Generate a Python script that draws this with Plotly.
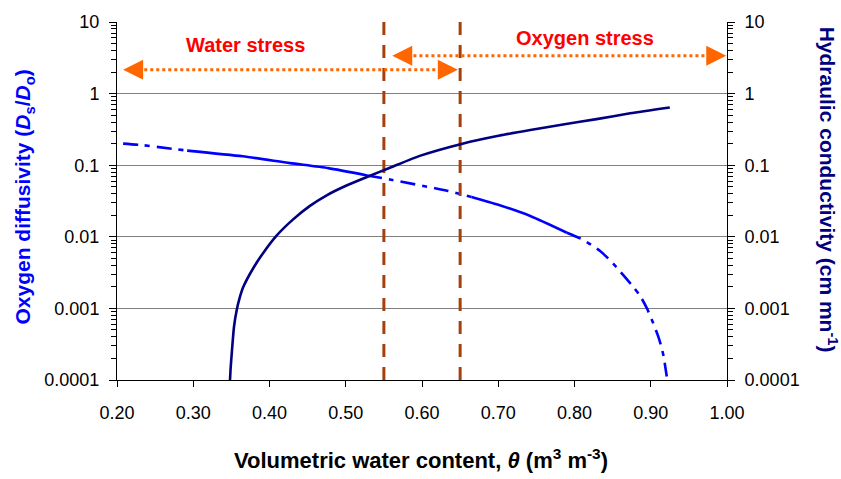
import math
import plotly.graph_objects as go

# ---------------- data ----------------
# Oxygen diffusivity Ds/Do (left axis)
theta_ds = [0.208, 0.234, 0.292, 0.365, 0.427, 0.477, 0.528, 0.558, 0.633, 0.665,
            0.700, 0.742, 0.790, 0.811, 0.834, 0.851, 0.877, 0.886, 0.895, 0.903,
            0.910, 0.914, 0.917, 0.921]
ds = [0.20, 0.19, 0.16, 0.133, 0.107, 0.091, 0.072, 0.063, 0.044, 0.036,
      0.028, 0.0195, 0.0114, 0.0091, 0.0063, 0.0042, 0.0020, 0.0015, 0.0010, 0.00063,
      0.00040, 0.00029, 0.00021, 0.000112]
# line style of each stretch of the diffusivity curve (start, end)
ds_style_breaks = [(0.208, 0.292, "dashdot"), (0.292, 0.528, "solid"),
                   (0.528, 0.665, "dashdot"), (0.665, 0.790, "solid"),
                   (0.790, 0.921, "dashdot")]

# Hydraulic conductivity (right axis)
theta_k = [0.3482, 0.3491, 0.3508, 0.3534, 0.357, 0.3604, 0.3657, 0.379, 0.392, 0.409,
           0.431, 0.453, 0.475, 0.501, 0.527, 0.558, 0.597, 0.653, 0.702, 0.742,
           0.785, 0.829, 0.873, 0.925]
k = [0.0001, 0.00015, 0.00026, 0.00055, 0.00095, 0.00135, 0.0020, 0.0037, 0.0060, 0.0103,
     0.0175, 0.027, 0.038, 0.052, 0.068, 0.092, 0.135, 0.20, 0.26, 0.31,
     0.37, 0.44, 0.53, 0.64]

# stress thresholds
thresholds = [0.55, 0.65]
water_arrow_x = [0.208, 0.647]
water_arrow_y = 2.15
oxygen_arrow_x = [0.561, 0.999]
oxygen_arrow_y = 3.37
water_label = ("Water stress", 0.368, 4.8)
oxygen_label = ("Oxygen stress", 0.814, 6.0)

x_ticks = [0.2, 0.3, 0.4, 0.5, 0.6, 0.7, 0.8, 0.9, 1.0]
y_ticks = [0.0001, 0.001, 0.01, 0.1, 1, 10]
y_ticktext = ["0.0001", "0.001", "0.01", "0.1", "1", "10"]

# ---------------- figure ----------------
FONT = "Liberation Sans, Arial, sans-serif"
BLUE = "#0000FF"
NAVY = "#000080"
BROWN = "#A4400C"
ORANGE = "#FF6600"

fig = go.Figure()

for (a, b, style) in ds_style_breaks:
    xs = [t for t in theta_ds if a - 1e-9 <= t <= b + 1e-9]
    ys = [v for t, v in zip(theta_ds, ds) if a - 1e-9 <= t <= b + 1e-9]
    fig.add_trace(go.Scatter(
        x=xs, y=ys, mode="lines", yaxis="y", showlegend=False,
        line=dict(color=BLUE, width=2.6, smoothing=0.6,
                  dash=("solid" if style == "solid" else "15px,7px,5px,7px")),
        line_shape="spline"))

fig.add_trace(go.Scatter(x=theta_k, y=k, mode="lines", yaxis="y2", showlegend=False,
                         line=dict(color=NAVY, width=2.6, smoothing=0.6),
                         line_shape="spline"))

for t in thresholds:
    fig.add_trace(go.Scatter(x=[t, t], y=[y_ticks[0], y_ticks[-1]], mode="lines",
                             showlegend=False,
                             line=dict(color=BROWN, width=3, dash="13px,10px")))

# dotted arrows
for ax_, yv in ((water_arrow_x, water_arrow_y), (oxygen_arrow_x, oxygen_arrow_y)):
    fig.add_trace(go.Scatter(x=[ax_[0] + 0.012, ax_[1] - 0.012], y=[yv, yv], mode="lines",
                             showlegend=False,
                             line=dict(color=ORANGE, width=3, dash="3px,3px")))
    for tip, tail in ((ax_[0], ax_[0] + 0.018), (ax_[1], ax_[1] - 0.018)):
        fig.add_annotation(x=tip, y=math.log10(yv), ax=tail, ay=math.log10(yv),
                           xref="x", yref="y", axref="x", ayref="y", text="",
                           showarrow=True, arrowhead=2, arrowsize=1.6, arrowwidth=2.5,
                           arrowcolor=ORANGE, standoff=0, startstandoff=0)

for (txt, xv, yv) in (water_label, oxygen_label):
    fig.add_annotation(x=xv, y=math.log10(yv), xref="x", yref="y", text="<b>%s</b>" % txt,
                       showarrow=False, font=dict(family=FONT, size=20, color="#FF0000"))

# axis titles
fig.add_annotation(x=-0.1525, y=0.5125, xref="paper", yref="paper", textangle=-90,
                   showarrow=False, xanchor="center", yanchor="middle",
                   text="<b>Oxygen diffusivity (<i>D</i><sub>s</sub>/<i>D</i><sub>o</sub>)</b>",
                   font=dict(family=FONT, size=21, color=BLUE))
fig.add_annotation(x=1.167, y=0.532, xref="paper", yref="paper", textangle=90,
                   showarrow=False, xanchor="center", yanchor="middle",
                   text="<b>Hydraulic conductivity (cm mn<sup>-1</sup>)</b>",
                   font=dict(family=FONT, size=21, color=NAVY))
fig.add_annotation(x=0.498, y=-0.2216, xref="paper", yref="paper",
                   showarrow=False, xanchor="center", yanchor="middle",
                   text="<b>Volumetric water content, <i>θ</i> (m<sup>3</sup> m<sup>-3</sup>)</b>",
                   font=dict(family=FONT, size=22, color="black"))

minor_vals = [m * 10 ** e for e in range(-4, 1) for m in range(2, 10)]

yaxis_common = dict(
    type="log", range=[-4, 1], tickvals=y_ticks, ticktext=y_ticktext,
    ticks="outside", ticklen=7, tickcolor="black", tickwidth=1,
    showline=True, linecolor="black", linewidth=1,
    tickfont=dict(family=FONT, size=18, color="black"),
    minor=dict(tickvals=minor_vals, ticks="outside", ticklen=5, tickcolor="black",
               showgrid=False),
    zeroline=False, ticklabelstandoff=6,
)

fig.update_layout(
    width=841, height=479,
    margin=dict(l=117, r=114, t=19, b=99),
    paper_bgcolor="white", plot_bgcolor="white",
    showlegend=False,
    xaxis=dict(range=[0.2, 1.0], tickvals=x_ticks, tickformat=".2f",
               ticks="outside", ticklen=6, tickcolor="black",
               showline=True, linecolor="black", linewidth=1,
               showgrid=False, zeroline=False,
               tickfont=dict(family=FONT, size=18, color="black"),
               ticklabelstandoff=10),
    yaxis=dict(**yaxis_common, side="left", showgrid=True, gridcolor="#808080", gridwidth=1),
    yaxis2=dict(**yaxis_common, side="right", overlaying="y", showgrid=False),
)

fig.write_html("out.html", config={"displayModeBar": False},
               post_script="document.body.style.margin='0';")
